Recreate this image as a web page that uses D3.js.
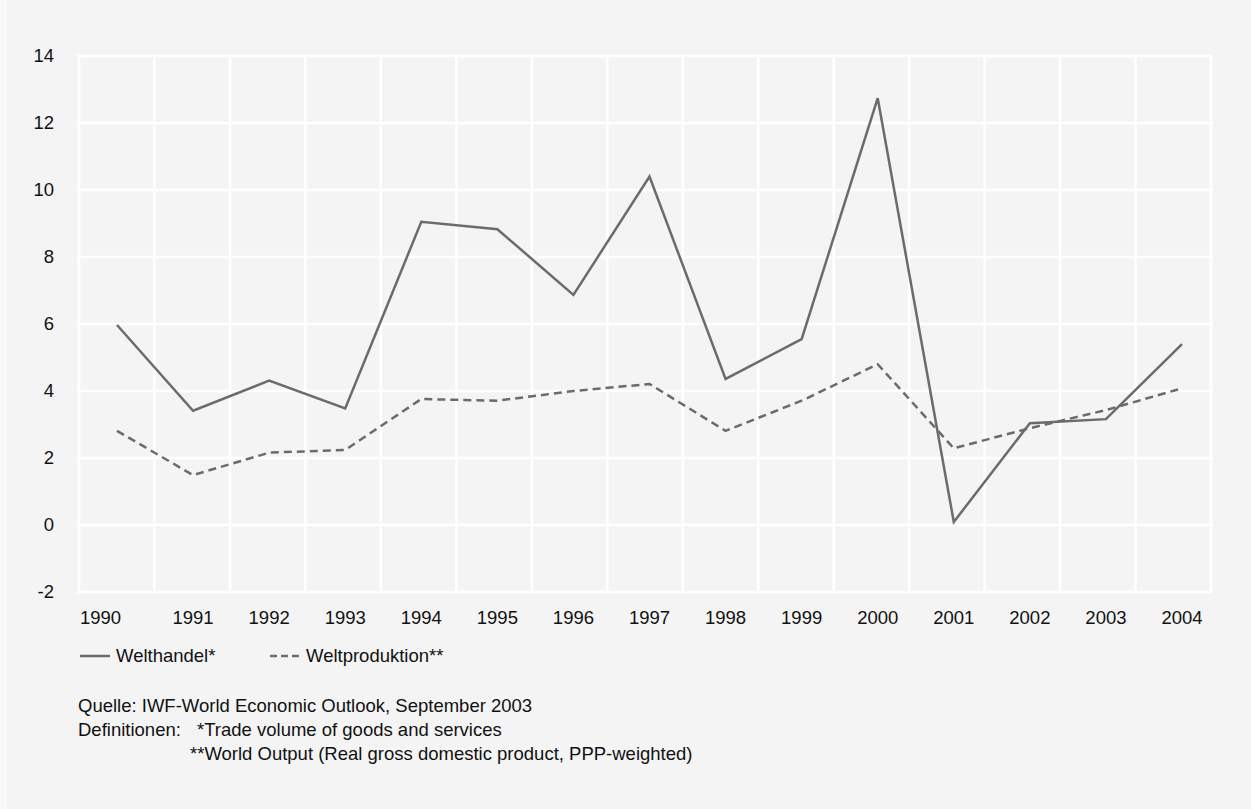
<!DOCTYPE html>
<html lang="de">
<head>
<meta charset="utf-8">
<title>Welthandel und Weltproduktion 1990–2004</title>
<script src="https://cdn.jsdelivr.net/npm/d3@7"></script>
<style>
  html, body { margin: 0; padding: 0; background: #f9f9f9; }
  svg { display: block; }
  text { font-family: "Liberation Sans", Arial, Helvetica, sans-serif; fill: #111; }
</style>
</head>
<body>
<svg id="chart" width="1251" height="809"></svg>
<script>
// Jahre (Kategorien)
const years = ["1990","1991","1992","1993","1994","1995","1996","1997","1998","1999","2000","2001","2002","2003","2004"];
// Veränderung gegenüber Vorjahr in %
const welthandel = [5.97, 3.41, 4.31, 3.48, 9.05, 8.83, 6.87, 10.4, 4.36, 5.55, 12.74, 0.09, 3.04, 3.16, 5.4];
const weltproduktion = [2.81, 1.49, 2.16, 2.24, 3.76, 3.71, 4.0, 4.21, 2.81, 3.71, 4.8, 2.29, 2.89, 3.43, 4.08];
// Achsenbeschriftung
const yTicks = [-2, 0, 2, 4, 6, 8, 10, 12, 14];
const seriesNames = ["Welthandel*", "Weltproduktion**"];
const notes = [
  "Quelle: IWF-World Economic Outlook, September 2003",
  "Definitionen:",
  "*Trade volume of goods and services",
  "**World Output (Real gross domestic product, PPP-weighted)"
];

const svg = d3.select("#chart");
const W = 1251, H = 809;
const plot = { left: 79, right: 1211, top: 56, bottom: 592 };
const lineColor = "#6b6b6b";
const fontSize = 18.5;

// card background
svg.append("rect").attr("x", 7).attr("y", 0).attr("width", W - 7).attr("height", H).attr("fill", "#f4f4f4");

const y = d3.scaleLinear().domain([-2, 14]).range([plot.bottom, plot.top]);
const xBand = d3.scaleBand().domain(years).range([plot.left, plot.right]);
const x = d3.scalePoint().domain(years).range([117, 1182]);

// grid
const grid = svg.append("g").attr("stroke", "#ffffff").attr("stroke-width", 2.5);
grid.selectAll("line.h").data(yTicks).join("line")
  .attr("class", "h")
  .attr("x1", plot.left - 2).attr("x2", plot.right + 2)
  .attr("y1", d => y(d)).attr("y2", d => y(d));
const edges = years.map(d => xBand(d)).concat([xBand(years[years.length - 1]) + xBand.bandwidth()]);
grid.selectAll("line.v").data(edges).join("line")
  .attr("class", "v")
  .attr("x1", d => d).attr("x2", d => d)
  .attr("y1", plot.top - 1).attr("y2", plot.bottom + 1);

// y axis labels
const yAxis = svg.append("g")
  .attr("transform", `translate(${plot.left - 25},0)`)
  .call(d3.axisLeft(y).tickValues(yTicks).tickSize(0).tickPadding(0).tickFormat(d => String(d)));
yAxis.select(".domain").remove();
yAxis.selectAll("text")
  .attr("font-size", fontSize)
  .attr("font-family", '"Liberation Sans", Arial, sans-serif')
  .attr("fill", "#111");

// x axis labels; the first one starts at the plot's left edge
svg.append("g").selectAll("text").data(years).join("text")
  .attr("font-size", fontSize)
  .attr("text-anchor", (d, i) => i === 0 ? "start" : "middle")
  .attr("x", (d, i) => i === 0 ? plot.left + 1 : x(d))
  .attr("y", 624)
  .text(d => d);

// lines
const line = d3.line().x((d, i) => x(years[i])).y(d => y(d));
svg.append("path").datum(welthandel)
  .attr("fill", "none").attr("stroke", lineColor).attr("stroke-width", 2.5)
  .attr("stroke-linejoin", "miter")
  .attr("d", line);
svg.append("path").datum(weltproduktion)
  .attr("fill", "none").attr("stroke", lineColor).attr("stroke-width", 2.5)
  .attr("stroke-dasharray", "8,5")
  .attr("d", line);

// legend
const legend = svg.append("g");
const legendItems = [
  { name: seriesNames[0], x: 80, dash: null },
  { name: seriesNames[1], x: 270, dash: "7,4" }
];
legendItems.forEach(it => {
  legend.append("line")
    .attr("x1", it.x).attr("x2", it.x + 30)
    .attr("y1", 656).attr("y2", 656)
    .attr("stroke", lineColor).attr("stroke-width", 2.5)
    .attr("stroke-dasharray", it.dash);
  legend.append("text")
    .attr("x", it.x + 36).attr("y", 662)
    .attr("font-size", fontSize)
    .text(it.name);
});

// source and definitions
const noteG = svg.append("g").attr("font-size", fontSize);
noteG.append("text").attr("x", 78).attr("y", 712).text(notes[0]);
noteG.append("text").attr("x", 78).attr("y", 736).text(notes[1]);
noteG.append("text").attr("x", 197).attr("y", 736).text(notes[2]);
noteG.append("text").attr("x", 190).attr("y", 760).text(notes[3]);
</script>
</body>
</html>
